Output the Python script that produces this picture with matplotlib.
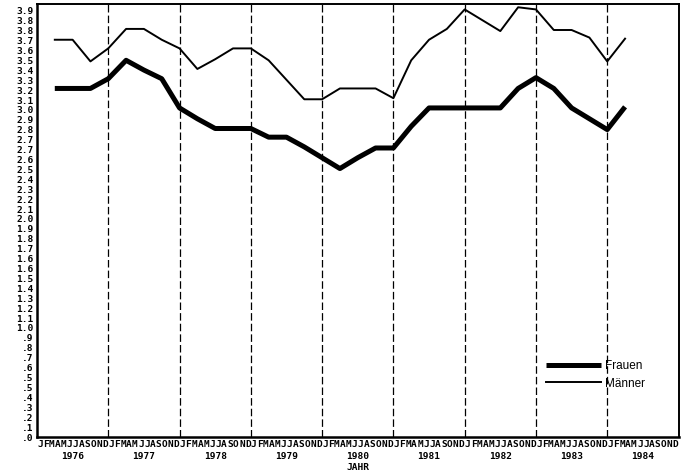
import numpy as np
import matplotlib.pyplot as plt

# quarterly values
quartale = np.arange(1976.25, 1984.26, 0.25)

frauen = [3.22, 3.22, 3.22, 3.31, 3.48, 3.39, 3.31, 3.04, 2.94, 2.85, 2.85,
          2.85, 2.77, 2.77, 2.68, 2.58, 2.48, 2.58, 2.67, 2.67, 2.87, 3.04,
          3.04, 3.04, 3.04, 3.04, 3.22, 3.32, 3.22, 3.04, 2.94, 2.84, 3.05]

maenner = [3.67, 3.67, 3.47, 3.59, 3.77, 3.77, 3.67, 3.59, 3.40, 3.49, 3.59,
           3.59, 3.48, 3.30, 3.12, 3.12, 3.22, 3.22, 3.22, 3.13, 3.48, 3.67,
           3.77, 3.95, 3.85, 3.75, 3.97, 3.95, 3.76, 3.76, 3.69, 3.47, 3.68]

jahre = ['1976', '1977', '1978', '1979', '1980', '1981', '1982', '1983', '1984']
monate = ['J', 'F', 'M', 'A', 'M', 'J', 'J', 'A', 'S', 'O', 'N', 'D']

# y tick labels exactly as printed on the original axis
y_labels = ['.0', '.1', '.2', '.3', '.4', '.5', '.5', '.6', '.7', '.8', '.9',
            '1.0', '1.1', '1.2', '1.3', '1.4', '1.5', '1.6', '1.6', '1.7',
            '1.8', '1.9', '2.0', '2.1', '2.2', '2.3', '2.4', '2.5', '2.6',
            '2.7', '2.7', '2.8', '2.9', '3.0', '3.1', '3.2', '3.3', '3.4',
            '3.5', '3.6', '3.7', '3.8', '3.8', '3.9']
y_step = 0.09155

fig = plt.figure(figsize=(6.99, 4.73), dpi=100)
ax = fig.add_axes([0.0529, 0.0761, 0.9178, 0.9154])

ax.plot(quartale, frauen, color='black', linewidth=3.6,
        solid_joinstyle='round', solid_capstyle='butt', label='Frauen')
ax.plot(quartale, maenner, color='black', linewidth=1.4,
        solid_joinstyle='round', label='Männer')

# dashed separators between years
for j in range(1977, 1985):
    ax.axvline(j, color='black', linewidth=0.9, linestyle=(0, (6, 2.5)))

ax.set_xlim(1976, 1985)
ax.set_ylim(0, 4.0)

mono = {'family': 'DejaVu Sans Mono', 'weight': 'bold', 'size': 6.8}

ax.set_yticks(np.arange(len(y_labels)) * y_step)
ax.set_yticklabels(y_labels, fontdict=mono)
ax.tick_params(axis='y', length=0, pad=2.5)

ax.set_xticks(np.arange(1976, 1985) + 0.5)
ax.set_xticklabels(jahre, fontdict=mono)
ax.set_xticks(np.arange(1976, 1985, 1 / 12) + 1 / 24, minor=True)
ax.set_xticklabels(monate * len(jahre), minor=True, fontdict=mono)
ax.tick_params(axis='x', which='major', length=0, pad=11)
ax.tick_params(axis='x', which='minor', length=0, pad=2)
ax.set_xlabel('JAHR', fontdict=mono, labelpad=1)

for s in ['left', 'bottom']:
    ax.spines[s].set_linewidth(1.8)
for s in ['top', 'right']:
    ax.spines[s].set_linewidth(1.4)

ax.legend(loc='lower right', bbox_to_anchor=(0.965, 0.085), frameon=False,
          handlelength=4.6, handletextpad=0.4, labelspacing=0.45,
          prop={'family': 'Liberation Sans', 'size': 8.5})

fig.savefig('out.png', dpi=100)
